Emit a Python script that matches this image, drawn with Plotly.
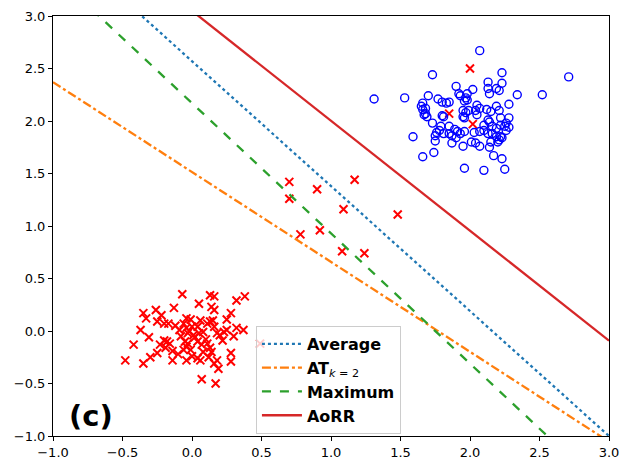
import plotly.graph_objects as go

# class -1 (red crosses): main cluster
red_x = [-0.07, 0.13, 0.16, 0.38, 0.32, 0.05, -0.13, 0.14, 0.16, -0.35,
         -0.33, -0.26, -0.22, -0.25, -0.20, -0.17, 0.28, 0.25, -0.04, -0.01,
         -0.06, -0.09, -0.04, 0.00, 0.04, -0.03, 0.01, 0.05, 0.08, 0.13,
         0.11, 0.16, 0.18, 0.23, 0.20, 0.22, 0.25, 0.32, 0.37, 0.30,
         -0.37, -0.31, -0.42, -0.48, -0.35, -0.30, -0.25, -0.20, -0.18, -0.23,
         -0.19, -0.16, -0.14, -0.14, -0.05, -0.04, -0.01, -0.06, 0.00, -0.04,
         0.04, 0.06, 0.04, 0.07, 0.11, 0.13, 0.14, 0.08, 0.18, 0.16,
         0.19, 0.28, 0.28, 0.07, 0.17, 0.49,
         -0.02, 0.02, -0.08, 0.10, 0.06, -0.10, 0.12, -0.03, 0.15, -0.12]
red_y = [0.35, 0.34, 0.33, 0.33, 0.29, 0.26, 0.22, 0.23, 0.20, 0.17,
         0.12, 0.20, 0.15, 0.09, 0.07, 0.07, 0.17, 0.11, 0.12, 0.11,
         0.07, 0.01, 0.03, 0.04, 0.04, -0.02, -0.04, -0.02, -0.01, 0.09,
         0.07, 0.04, -0.02, -0.01, -0.04, -0.09, 0.01, 0.03, 0.01, -0.05,
         0.01, -0.06, -0.13, -0.28, -0.31, -0.25, -0.21, -0.09, -0.10, -0.13,
         -0.16, -0.12, -0.19, -0.28, -0.10, -0.15, -0.18, -0.18, -0.24, -0.28,
         -0.26, -0.28, -0.10, -0.13, -0.12, -0.16, -0.20, -0.20, -0.28, -0.31,
         -0.36, -0.21, -0.29, -0.46, -0.50, -0.12,
         0.00, -0.06, -0.05, -0.08, 0.10, -0.22, -0.25, -0.12, 0.10, 0.05]

# class -1 outliers
out_x = [0.70, 0.70, 0.90, 1.17, 1.09, 1.48, 0.78, 0.92, 1.08, 1.24, 2.00, 1.85, 2.02]
out_y = [1.42, 1.26, 1.35, 1.44, 1.16, 1.11, 0.92, 0.96, 0.76, 0.74, 2.50, 2.07, 1.97]

# class +1 (blue circles)
blue_x = [2.07, 1.73, 2.23, 2.71, 2.13, 2.23, 1.90, 2.02, 2.13, 2.19,
          2.21, 2.14, 1.92, 1.93, 2.34, 2.52, 1.31, 1.53, 1.70, 1.77,
          1.80, 1.85, 1.97, 1.98, 1.96, 1.66, 1.65, 1.66, 2.05, 2.04,
          2.07, 2.19, 2.21, 2.28, 2.12, 2.15, 1.99, 1.68, 1.69, 1.80,
          1.81, 1.95, 2.05, 2.22, 2.28, 2.13, 1.73, 1.85, 1.79, 1.78,
          1.89, 1.91, 1.93, 1.96, 2.10, 2.16, 2.19, 2.25, 2.28, 2.26,
          1.81, 1.85, 1.87, 1.90, 2.03, 2.07, 2.10, 2.13, 2.16, 2.19,
          2.22, 2.23, 1.59, 1.75, 1.75, 1.87, 2.01, 2.04, 2.07, 2.14,
          2.20, 1.95, 1.66, 1.74, 2.17, 2.23, 1.96, 2.10, 2.25,
          2.14, 2.22, 2.15, 2.21, 2.26, 1.98, 1.83, 1.68, 1.67, 1.95,
          1.97, 1.96, 1.76]
blue_y = [2.67, 2.44, 2.46, 2.42, 2.37, 2.36, 2.33, 2.30, 2.31, 2.31,
          2.29, 2.26, 2.26, 2.24, 2.25, 2.25, 2.21, 2.22, 2.24, 2.21,
          2.18, 2.18, 2.22, 2.20, 2.19, 2.17, 2.14, 2.11, 2.15, 2.10,
          2.12, 2.14, 2.10, 2.16, 2.11, 2.09, 2.10, 2.07, 2.04, 2.05,
          2.04, 2.04, 2.06, 2.03, 2.03, 2.01, 1.98, 1.95, 1.95, 1.91,
          1.92, 1.90, 1.88, 1.90, 1.96, 1.95, 1.93, 1.95, 1.94, 1.91,
          1.88, 1.88, 1.86, 1.84, 1.89, 1.90, 1.91, 1.88, 1.88, 1.85,
          1.85, 1.84, 1.85, 1.86, 1.81, 1.79, 1.80, 1.79, 1.76, 1.75,
          1.80, 1.76, 1.66, 1.70, 1.67, 1.64, 1.55, 1.53, 1.54,
          1.99, 1.96, 1.80, 1.82, 1.98, 2.26, 2.17, 2.12, 2.06, 2.10,
          2.08, 2.03, 1.89]

# decision boundaries  y = intercept + slope * x
methods = ["Average", "AT<sub><i>k</i> = 2</sub>", "Maximum", "AoRR"]
slopes = [-1.19, -0.856, -1.24, -1.047]
intercepts = [2.57, 1.514, 2.17, 3.049]
line_x = [-1.0, 3.0]

colors = ["#1f77b4", "#ff7f0e", "#2ca02c", "#d62728"]
dashes = ["dot", "dashdot", "dash", "solid"]

fig = go.Figure()

fig.add_trace(go.Scatter(x=red_x + out_x, y=red_y + out_y, mode="markers",
                         marker=dict(symbol="x-thin", size=8, color="red",
                                     line=dict(width=2, color="red")),
                         showlegend=False))
fig.add_trace(go.Scatter(x=blue_x, y=blue_y, mode="markers",
                         marker=dict(symbol="circle-open", size=8, color="blue",
                                     line=dict(width=1.4, color="blue")),
                         showlegend=False))

for i, name in enumerate(methods):
    ys = [intercepts[i] + slopes[i] * x for x in line_x]
    label = "<b>" + name + "</b>" if "<sub>" not in name else "<b>AT</b>" + name[2:]
    fig.add_trace(go.Scatter(x=line_x, y=ys, mode="lines", name=label,
                             legendgroup=str(i),
                             line=dict(color=colors[i], dash=dashes[i], width=2.3)))

axis_style = dict(showgrid=False, zeroline=False, showline=True, linecolor="black",
                  linewidth=1, mirror=True, ticks="outside", ticklen=4,
                  tickcolor="black", tickformat=".1f", automargin=False,
                  tickfont=dict(family="DejaVu Sans", size=13, color="black"))

fig.update_xaxes(range=[-1, 3], dtick=0.5, **axis_style)
fig.update_yaxes(range=[-1, 3], dtick=0.5, **axis_style)

fig.add_annotation(x=-0.73, y=-0.81, xref="x", yref="y", text="<b>(c)</b>",
                   showarrow=False, xanchor="center", yanchor="middle",
                   font=dict(family="DejaVu Sans", size=29, color="black"))

# page body adds an 8px offset, margins compensate for it
fig.update_layout(
    width=630, height=470,
    margin=dict(l=45, r=29, t=8, b=42),
    plot_bgcolor="white", paper_bgcolor="white",
    legend=dict(x=0.365, y=0.262, xanchor="left", yanchor="top",
                bgcolor="rgba(255,255,255,0.8)", bordercolor="#cccccc",
                borderwidth=1, tracegroupgap=0, itemwidth=40,
                font=dict(family="DejaVu Sans", size=16, color="black")),
)

fig.write_html("out.html")
